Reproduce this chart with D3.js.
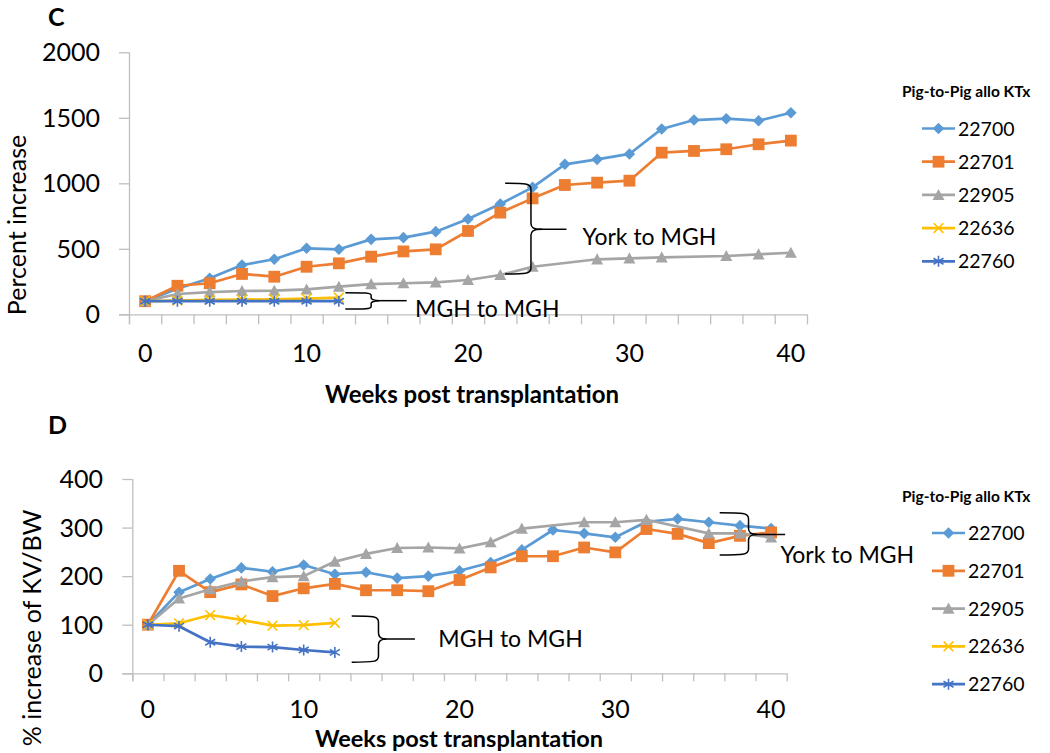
<!DOCTYPE html>
<html><head><meta charset="utf-8">
<script src="https://cdn.jsdelivr.net/npm/d3@7"></script>
<style>
body{margin:0;background:#fff}
svg{display:block}
text{font-family:Lato,"Open Sans",sans-serif;fill:#000}
</style>
</head><body>
<svg id="chart" width="1050" height="753"></svg>
<script>
// ---------- data ----------
const weeks = [0,2,4,6,8,10,12,14,16,18,20,22,24,26,28,30,32,34,36,38,40];
const seriesNames = ["22700","22701","22905","22636","22760"];
const seriesColors = ["#5B9BD5","#ED7D31","#A5A5A5","#FFC000","#4472C4"];
const seriesMarkers = ["diamond","square","triangle","x","star"];

// Panel C: percent increase
const pct22700 = [100,195,275,376,420,504,496,572,585,631,727,842,969,1145,1183,1224,1415,1483,1493,1478,1539];
const pct22701 = [100,218,237,308,287,363,389,440,480,496,636,776,885,987,1005,1020,1234,1247,1260,1298,1326];
const pct22905 = [100,155,170,178,180,190,211,231,237,244,262,300,363,null,420,427,435,null,445,458,470];
const pct22636 = [100,105,110,112,115,120,127];
const pct22760 = [100,100,100,100,100,100,100];

// Panel D: % increase of KV/BW
const kv22700 = [100,167,194,217,209,223,204,208,196,200,211,228,254,295,288,280,312,318,311,304,298];
const kv22701 = [100,211,167,183,159,175,184,171,171,169,192,218,241,241,259,249,297,287,268,283,290];
const kv22905 = [100,154,173,189,198,200,230,246,258,259,257,270,298,null,311,311,316,null,288,288,280];
const kv22636 = [100,103,120,110,98,99,104];
const kv22760 = [100,97,64,55,54,48,43];

const xTickLabels = [0,10,20,30,40];
const xTickMarks = [-1,1,3,5,7,9,11,13,15,17,19,21,23,25,27,29,31,33,35,37,39,41];
const yTicksC = [0,500,1000,1500,2000];
const yTicksD = [0,100,200,300,400];

const legendTitle = "Pig-to-Pig allo KTx";
const xTitle = "Weeks post transplantation";

// brace annotations in data units: arm x, spine x, tip x, line end x, top, mid, bottom, label x, label y
const annotC = [
  {label:"MGH to MGH", arm:12.4, spine:14.0, tip:14.25, end:16.2, top:165, mid:104, bot:40, lx:16.72, ly:-18},
  {label:"York to MGH", arm:22.3, spine:23.9, tip:24.35, end:26.1, top:1000, mid:649, bot:308, lx:27.1, ly:529}
];
const annotD = [
  {label:"MGH to MGH", arm:13.08, spine:14.8, tip:15.05, end:17.14, top:118, mid:70.6, bot:23, lx:18.64, ly:54.8},
  {label:"York to MGH", arm:36.7, spine:38.55, tip:38.85, end:40.9, top:330.6, mid:286, bot:243.5, lx:40.6, ly:227.7}
];

// ---------- drawing ----------
const svg = d3.select("#chart");
svg.append("rect").attr("width",1050).attr("height",753).attr("fill","#fff");

function drawMarker(g, type, color, cx, cy, s) {
  s = s || 1;
  const m = g.append("g").attr("transform", `translate(${cx},${cy})`);
  if (type === "diamond") {
    const r = 5.8*s;
    m.append("path").attr("d",`M0,${-r}L${r},0L0,${r}L${-r},0Z`).attr("fill",color);
  } else if (type === "square") {
    const h = 5.9*s;
    m.append("rect").attr("x",-h).attr("y",-h).attr("width",2*h).attr("height",2*h).attr("fill",color);
  } else if (type === "triangle") {
    const r = 6*s;
    m.append("path").attr("d",`M0,${-r}L${r},${r*0.85}L${-r},${r*0.85}Z`).attr("fill",color);
  } else if (type === "x") {
    const r = 4.8*s;
    m.append("path").attr("d",`M${-r},${-r}L${r},${r}M${-r},${r}L${r},${-r}`)
      .attr("stroke",color).attr("stroke-width",1.6).attr("fill","none");
  } else if (type === "star") {
    const r = 5*s;
    m.append("path").attr("d",`M0,${-r-0.5}L0,${r+0.5}M${-r},${-r*0.6}L${r},${r*0.6}M${-r},${r*0.6}L${r},${-r*0.6}`)
      .attr("stroke",color).attr("stroke-width",1.6).attr("fill","none");
  }
}

function bracePath(x, y, a) {
  const ax = x(a.arm), sx = x(a.spine), tx = x(a.tip);
  const yt = y(a.top), ym = y(a.mid), yb = y(a.bot);
  const r = Math.min(6, (ym-yt)/3);
  return `M${ax},${yt}C${sx-6},${yt} ${sx},${yt} ${sx},${yt+r}` +
         `L${sx},${ym-r}C${sx},${ym-2} ${sx+2},${ym} ${tx+4},${ym}` +
         `C${sx+2},${ym} ${sx},${ym+2} ${sx},${ym+r}` +
         `L${sx},${yb-r}C${sx},${yb} ${sx-6},${yb} ${ax},${yb}`;
}

function drawPanel(p) {
  const x = d3.scaleLinear().domain([-1,41]).range([p.x0, p.x1]);
  const y = d3.scaleLinear().domain([0, p.yMax]).range([p.y0, p.y1]);
  const g = svg.append("g");

  // axes
  const axColor = "#BFBFBF";
  const xAx = g.append("g").attr("transform",`translate(0,${p.y0})`)
    .call(d3.axisBottom(x).tickValues(xTickMarks).tickSize(p.xTick).tickFormat(""));
  xAx.select(".domain").attr("stroke",axColor).attr("stroke-width",1.3)
     .attr("d",`M${p.x0-p.yTick},0.5H${p.x1}`);
  xAx.selectAll(".tick line").attr("stroke",axColor).attr("stroke-width",1.3);

  const yAx = g.append("g").attr("transform",`translate(${p.x0},0)`)
    .call(d3.axisLeft(y).tickValues(p.yTicks).tickSize(p.yTick).tickFormat(""));
  yAx.select(".domain").attr("stroke",axColor).attr("stroke-width",1.3)
     .attr("d",`M0.5,${p.y1}V${p.y0+p.xTick}`);
  yAx.selectAll(".tick line").attr("stroke",axColor).attr("stroke-width",1.3);

  // tick labels
  g.selectAll(".ylab").data(p.yTicks).join("text")
    .attr("x", p.yLabRight).attr("y", d=>y(d)).attr("dy","0.36em")
    .attr("text-anchor","end").attr("font-size",25).text(d=>d);
  g.selectAll(".xlab").data(xTickLabels).join("text")
    .attr("x", d=>x(d)).attr("y", p.xLabBase)
    .attr("text-anchor","middle").attr("font-size",25).text(d=>d);

  // titles
  g.append("text").attr("x",p.xTitleX).attr("y",p.xTitleY).attr("text-anchor","middle")
    .attr("font-size",p.xTitleSize).attr("font-weight","bold").text(xTitle);
  g.append("text").attr("transform",`translate(${p.yTitleX},${p.yTitleY}) rotate(-90)`)
    .attr("text-anchor","middle").attr("font-size",25).text(p.yTitle);
  g.append("text").attr("x",48).attr("y",p.letterY).attr("font-size",25)
    .attr("font-weight","bold").text(p.letter);

  // series
  p.series.forEach((vals, i) => {
    const pts = vals.map((v,j)=>({w:weeks[j], v:v})).filter(d=>d.v!=null);
    g.append("path").datum(pts)
      .attr("d", d3.line().x(d=>x(d.w)).y(d=>y(d.v)))
      .attr("fill","none").attr("stroke",seriesColors[i]).attr("stroke-width",2.7)
      .attr("stroke-linejoin","round").attr("stroke-linecap","round");
    pts.forEach(d => drawMarker(g, seriesMarkers[i], seriesColors[i], x(d.w), y(d.v)));
  });

  // annotations
  p.annot.forEach(a => {
    g.append("path").attr("d", bracePath(x,y,a)).attr("fill","none")
      .attr("stroke","#000").attr("stroke-width",1.5);
    g.append("line").attr("x1",x(a.tip)).attr("x2",x(a.end)).attr("y1",y(a.mid)).attr("y2",y(a.mid))
      .attr("stroke","#000").attr("stroke-width",1.5);
    g.append("text").attr("x",x(a.lx)).attr("y",y(a.ly)).attr("font-size",23).text(a.label);
  });

  // legend
  const lg = g.append("g");
  lg.append("text").attr("x",p.legX).attr("y",p.legTitleY).attr("font-size",15.5)
    .attr("font-weight","bold").text(legendTitle);
  seriesNames.forEach((n,i) => {
    const yy = p.legY0 + i*p.legStep;
    lg.append("line").attr("x1",p.legLineX).attr("x2",p.legLineX+33).attr("y1",yy).attr("y2",yy)
      .attr("stroke",seriesColors[i]).attr("stroke-width",2.7);
    drawMarker(lg, seriesMarkers[i], seriesColors[i], p.legLineX+16.5, yy);
    lg.append("text").attr("x",p.legLineX+36).attr("y",yy).attr("dy","0.36em")
      .attr("font-size",19.5).text(n);
  });
}

drawPanel({
  letter:"C", letterY:26,
  x0:129, x1:807, y0:314.3, y1:52.3, yMax:2000, yTicks:yTicksC,
  xTick:10, yTick:10, yLabRight:100, xLabBase:362,
  xTitleX:472, xTitleY:403, xTitleSize:24, yTitle:"Percent increase", yTitleX:25.5, yTitleY:225,
  series:[pct22700,pct22701,pct22905,pct22636,pct22760],
  annot:annotC,
  legX:902, legTitleY:97, legLineX:922, legY0:128.5, legStep:33.2
});
drawPanel({
  letter:"D", letterY:434,
  x0:132.3, x1:786.7, y0:673.3, y1:479, yMax:400, yTicks:yTicksD,
  xTick:8, yTick:10, yLabRight:103, xLabBase:718,
  xTitleX:459, xTitleY:747, xTitleSize:23.5, yTitle:"% increase of KV/BW", yTitleX:41, yTitleY:628,
  series:[kv22700,kv22701,kv22905,kv22636,kv22760],
  annot:annotD,
  legX:902, legTitleY:502, legLineX:932, legY0:533, legStep:37.8
});
</script>
</body></html>
